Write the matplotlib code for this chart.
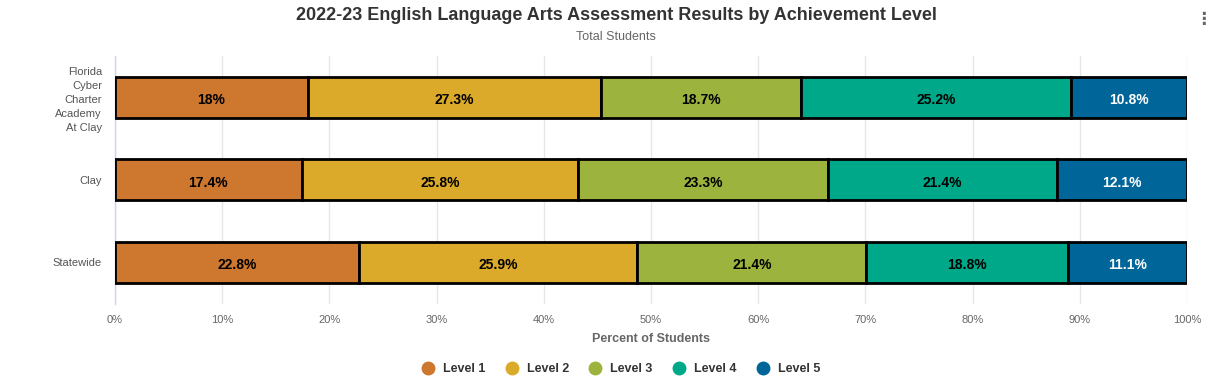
import matplotlib
matplotlib.use("Agg")
from matplotlib import pyplot as plt
from matplotlib.lines import Line2D

plt.rcParams['font.family'] = ['Liberation Sans', 'DejaVu Sans']

# data
schools = ["Florida\nCyber\nCharter\nAcademy\nAt Clay", "Clay", "Statewide"]
levels = ["Level 1", "Level 2", "Level 3", "Level 4", "Level 5"]
level1 = [18, 17.4, 22.8]
level2 = [27.3, 25.8, 25.9]
level3 = [18.7, 23.3, 21.4]
level4 = [25.2, 21.4, 18.8]
level5 = [10.8, 12.1, 11.1]
colors = ["#CE772E", "#DBAA2A", "#9CB33D", "#00A88A", "#006699"]
label_colors = ["black", "black", "black", "black", "white"]

fig = plt.figure(figsize=(12.11, 3.85), dpi=100)
ax = fig.add_axes([115/1211, 1-303.5/385, 1072/1211, 247.5/385])

y = list(range(len(schools)))
left = [0, 0, 0]
for i, vals in enumerate([level1, level2, level3, level4, level5]):
    ax.barh(y, vals, left=left, height=0.5, color=colors[i],
            edgecolor="black", linewidth=2, label=levels[i], zorder=3)
    for j, v in enumerate(vals):
        txt = ("%g" % v) + "%"
        ax.text(left[j] + v/2, y[j] + 0.02, txt, ha="center", va="center_baseline",
                fontsize=10, fontweight="bold", color=label_colors[i], zorder=4)
    left = [a + b for a, b in zip(left, vals)]

ax.set_xlim(0, 100)
ax.set_ylim(2.5, -0.5)
ax.set_yticks(y)
ax.set_yticklabels(schools, fontsize=8, color="#555555", linespacing=1.5)
ax.set_xticks(range(0, 101, 10))
ax.set_xticklabels([str(t) + "%" for t in range(0, 101, 10)], fontsize=8, color="#666666")
ax.tick_params(axis="x", length=0, pad=8)
ax.tick_params(axis="y", length=0, pad=14)
ax.grid(axis="x", color="#e6e6e6", linewidth=1, zorder=0)
for s in ["top", "right", "bottom"]:
    ax.spines[s].set_visible(False)
ax.spines["left"].set_color("#ccd6eb")
ax.spines["left"].set_linewidth(1)
# nudge y labels toward the axis
for lbl in ax.get_yticklabels():
    lbl.set_x(0.006)

ax.set_xlabel("Percent of Students", fontsize=9, fontweight="bold", color="#666666", labelpad=6)

fig.text(616/1211, 1-16/385, "2022-23 English Language Arts Assessment Results by Achievement Level",
         ha="center", va="center", fontsize=13, fontweight="bold", color="#333333")
fig.text(616/1211, 1-37/385, "Total Students", ha="center", va="center", fontsize=9, color="#666666")
fig.text(1203/1211, 1-19/385, "\u22ee", ha="center", va="center", fontsize=12, color="#666666",
         fontweight="bold", family=["DejaVu Sans"])

handles = [Line2D([0], [0], marker="o", linestyle="", markersize=9,
                  markerfacecolor=c, markeredgecolor=c) for c in colors]
leg = fig.legend(handles, levels, loc="center", bbox_to_anchor=(618/1211, 1-369/385),
                 ncol=5, frameon=False, handletextpad=0.2, columnspacing=1.1,
                 prop={"size": 9, "weight": "bold"})
for t in leg.get_texts():
    t.set_color("#333333")

fig.savefig("out.png", dpi=100)
